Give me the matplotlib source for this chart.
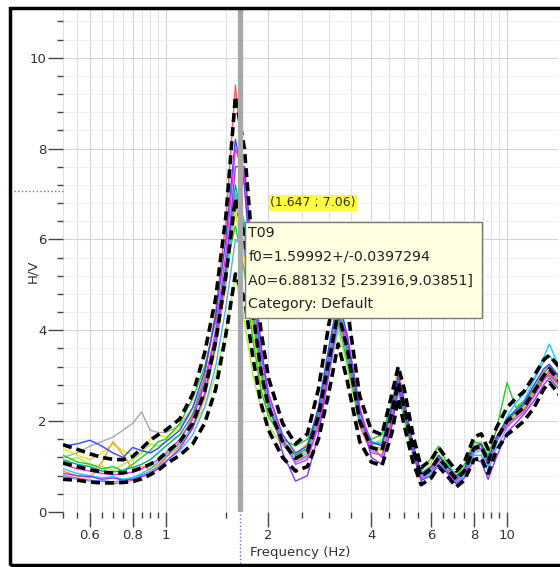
import numpy as np
import matplotlib
matplotlib.use('Agg')
import matplotlib.pyplot as plt
from matplotlib.ticker import FixedLocator, FixedFormatter, NullFormatter
from matplotlib.patches import Rectangle

# frequency samples (Hz)
freq = [0.50, 0.55, 0.60, 0.65, 0.70, 0.75, 0.80, 0.85, 0.90, 0.95,
        1.00, 1.10, 1.20, 1.30, 1.40, 1.50, 1.60, 1.70, 1.80, 1.90,
        2.00, 2.20, 2.40, 2.60, 2.80, 3.00, 3.20, 3.40, 3.70, 4.00,
        4.30, 4.60, 4.80, 5.00, 5.30, 5.60, 6.00, 6.30, 6.70, 7.10,
        7.50, 8.00, 8.40, 8.80, 9.30, 10.0, 10.6, 11.2, 12.0, 12.8,
        13.3, 14.0, 14.5]

# average H/V and +/- std curves
hv_mean = [1.08, 1.00, 0.93, 0.88, 0.86, 0.86, 0.90, 0.97, 1.05, 1.15,
           1.30, 1.55, 1.95, 2.65, 3.75, 5.20, 6.90, 6.10, 4.40, 3.10,
           2.30, 1.55, 1.18, 1.32, 2.10, 3.30, 4.40, 3.60, 2.00, 1.42,
           1.35, 2.20, 2.85, 2.30, 1.40, 0.78, 0.95, 1.20, 0.95, 0.72,
           0.90, 1.40, 1.45, 1.10, 1.60, 2.00, 2.15, 2.30, 2.65, 3.00,
           3.15, 2.95, 2.80]
hv_upper = [1.48, 1.38, 1.28, 1.20, 1.16, 1.15, 1.22, 1.40, 1.58, 1.70,
            1.80, 2.05, 2.60, 3.50, 4.70, 6.50, 9.15, 8.00, 5.70, 4.00,
            2.95, 1.95, 1.50, 1.72, 2.70, 4.10, 5.20, 4.50, 2.55, 1.80,
            1.70, 2.60, 3.20, 2.70, 1.70, 0.98, 1.15, 1.42, 1.15, 0.90,
            1.10, 1.65, 1.72, 1.38, 1.85, 2.30, 2.50, 2.65, 3.00, 3.35,
            3.45, 3.25, 3.10]
hv_lower = [0.72, 0.70, 0.66, 0.64, 0.64, 0.65, 0.67, 0.73, 0.82, 0.92,
            1.05, 1.25, 1.50, 1.95, 2.70, 3.90, 5.24, 4.70, 3.40, 2.40,
            1.80, 1.20, 0.90, 1.00, 1.60, 2.60, 3.70, 2.90, 1.55, 1.10,
            1.02, 1.75, 2.50, 1.90, 1.10, 0.60, 0.75, 1.00, 0.78, 0.55,
            0.70, 1.15, 1.20, 0.85, 1.35, 1.70, 1.85, 2.00, 2.30, 2.70,
            2.85, 2.65, 2.50]

# individual time window curves
win_blue = [1.45, 1.50, 1.58, 1.45, 1.30, 1.20, 1.42, 1.35, 1.30, 1.40,
            1.55, 1.80, 2.30, 3.10, 4.30, 6.00, 8.20, 7.20, 5.00, 3.50,
            2.60, 1.70, 1.30, 1.45, 2.30, 3.60, 4.70, 3.90, 2.20, 1.55,
            1.45, 2.35, 3.00, 2.40, 1.50, 0.85, 1.00, 1.25, 1.00, 0.78,
            0.95, 1.45, 1.50, 1.15, 1.65, 2.05, 2.25, 2.40, 2.80, 3.15,
            3.25, 3.05, 2.90]
win_cyan = [0.95, 0.85, 0.80, 0.75, 0.78, 0.72, 0.76, 0.85, 0.95, 1.10,
            1.25, 1.50, 1.90, 2.60, 3.70, 5.10, 7.00, 6.40, 4.60, 3.20,
            2.40, 1.60, 1.15, 1.30, 2.20, 3.40, 4.50, 3.80, 2.10, 1.50,
            1.55, 2.30, 2.75, 2.20, 1.35, 0.70, 0.90, 1.15, 0.90, 0.65,
            0.85, 1.30, 1.35, 1.00, 1.50, 2.10, 2.40, 2.60, 2.95, 3.40,
            3.70, 3.30, 3.10]
win_green = [1.25, 1.10, 1.05, 0.95, 1.00, 0.90, 1.05, 1.20, 1.35, 1.55,
             1.60, 1.95, 2.50, 3.20, 4.20, 5.40, 6.30, 5.30, 3.80, 2.70,
             2.10, 1.60, 1.45, 1.60, 2.10, 3.10, 4.20, 3.30, 2.00, 1.60,
             1.70, 2.40, 2.70, 2.10, 1.30, 0.90, 1.20, 1.45, 1.05, 0.80,
             1.05, 1.55, 1.50, 1.25, 1.80, 2.85, 2.30, 2.45, 2.70, 2.95,
             3.00, 2.85, 2.70]
win_lime = [1.10, 1.20, 1.05, 1.00, 0.92, 1.05, 1.15, 1.30, 1.50, 1.45,
            1.55, 1.70, 1.90, 2.30, 3.00, 4.00, 5.20, 4.20, 3.00, 2.30,
            1.90, 1.45, 1.25, 1.50, 2.00, 3.00, 4.00, 3.20, 1.90, 1.50,
            1.60, 2.10, 2.60, 2.00, 1.20, 0.80, 1.10, 1.35, 1.00, 0.78,
            1.00, 1.50, 1.55, 1.20, 1.55, 2.10, 2.20, 2.35, 2.60, 2.90,
            3.00, 2.80, 2.70]
win_yellow = [1.40, 1.25, 1.15, 1.30, 1.50, 1.35, 1.25, 1.35, 1.60, 1.70,
              1.65, 1.85, 2.20, 2.80, 3.80, 5.00, 6.60, 5.60, 4.00, 2.90,
              2.20, 1.50, 1.20, 1.40, 2.10, 3.20, 4.30, 3.50, 1.95, 1.40,
              1.35, 2.15, 2.80, 2.25, 1.40, 0.80, 0.95, 1.20, 0.95, 0.75,
              0.90, 1.40, 1.45, 1.10, 1.55, 1.95, 2.15, 2.30, 2.65, 3.00,
              3.10, 2.90, 2.75]
win_orange = [0.90, 0.80, 0.75, 1.10, 1.55, 1.25, 0.95, 1.00, 0.95, 1.05,
              1.20, 1.45, 1.85, 2.50, 3.60, 5.00, 7.00, 6.30, 4.50, 3.20,
              2.40, 1.60, 1.25, 1.50, 2.20, 3.40, 4.60, 3.70, 2.05, 1.45,
              1.40, 2.40, 3.20, 2.45, 1.45, 0.80, 0.95, 1.20, 0.95, 0.72,
              0.90, 1.40, 1.45, 1.10, 1.60, 2.00, 2.20, 2.40, 2.75, 3.10,
              3.25, 3.00, 2.85]
win_red = [0.80, 0.75, 0.70, 0.68, 0.62, 0.65, 0.70, 0.80, 0.90, 1.00,
           1.20, 1.55, 2.10, 3.00, 4.40, 6.40, 9.40, 7.20, 4.80, 3.30,
           2.40, 1.55, 1.10, 1.25, 2.00, 3.20, 4.40, 3.50, 1.90, 1.30,
           1.25, 2.10, 2.90, 2.30, 1.35, 0.72, 0.88, 1.15, 0.90, 0.68,
           0.85, 1.35, 1.40, 1.05, 1.55, 1.95, 2.10, 2.25, 2.60, 2.95,
           3.10, 2.90, 2.75]
win_magenta = [1.05, 0.95, 0.90, 0.85, 0.82, 0.84, 0.88, 0.95, 1.05, 1.15,
               1.30, 1.60, 2.05, 2.80, 4.00, 5.70, 8.00, 7.40, 5.30, 3.60,
               2.60, 1.60, 1.05, 1.15, 1.90, 3.10, 4.30, 3.80, 2.30, 1.45,
               1.20, 2.00, 2.80, 2.35, 1.40, 0.75, 0.92, 1.15, 0.90, 0.70,
               0.85, 1.35, 1.40, 1.05, 1.55, 1.90, 2.05, 2.20, 2.55, 2.90,
               3.05, 2.85, 2.70]
win_purple = [0.85, 0.80, 0.78, 0.72, 0.75, 0.70, 0.72, 0.78, 0.85, 0.95,
              1.10, 1.40, 1.85, 2.60, 3.70, 5.30, 7.60, 7.60, 5.60, 3.70,
              2.50, 1.30, 0.68, 0.80, 1.70, 3.00, 4.30, 3.90, 2.30, 1.20,
              1.05, 1.90, 2.70, 2.30, 1.35, 0.70, 0.80, 1.05, 0.85, 0.62,
              0.75, 1.15, 1.10, 0.72, 1.20, 1.75, 1.95, 2.15, 2.45, 2.80,
              2.95, 2.75, 2.60]
win_grey = [1.20, 1.30, 1.45, 1.55, 1.65, 1.80, 1.95, 2.20, 1.80, 1.75,
            1.75, 1.90, 2.30, 2.90, 3.90, 5.20, 6.80, 5.80, 4.10, 2.90,
            2.20, 1.50, 1.20, 1.35, 2.05, 3.20, 4.30, 3.50, 1.95, 1.40,
            1.35, 2.20, 2.80, 2.25, 1.40, 0.80, 0.95, 1.20, 0.95, 0.75,
            0.90, 1.40, 1.45, 1.10, 1.60, 2.00, 2.15, 2.30, 2.65, 3.00,
            3.10, 2.95, 2.80]
win_lightblue = [0.78, 0.72, 0.68, 0.70, 0.66, 0.70, 0.75, 0.82, 0.88, 0.98,
                 1.12, 1.35, 1.70, 2.30, 3.20, 4.50, 6.00, 5.80, 4.30, 3.10,
                 2.30, 1.50, 1.10, 1.20, 1.85, 3.00, 4.10, 3.50, 2.00, 1.35,
                 1.25, 2.00, 2.65, 2.20, 1.30, 0.68, 0.85, 1.10, 0.85, 0.62,
                 0.80, 1.25, 1.25, 0.90, 1.40, 1.85, 2.10, 2.45, 2.90, 3.30,
                 3.45, 3.20, 3.00]
win_teal = [1.15, 1.05, 1.00, 0.90, 0.88, 0.92, 0.98, 1.05, 1.15, 1.30,
            1.45, 1.70, 2.15, 2.85, 3.90, 5.40, 7.20, 6.20, 4.40, 3.10,
            2.30, 1.55, 1.25, 1.40, 2.15, 3.35, 4.40, 3.60, 2.05, 1.50,
            1.50, 2.25, 2.85, 2.25, 1.40, 0.82, 1.00, 1.25, 0.98, 0.75,
            0.92, 1.42, 1.48, 1.12, 1.60, 2.00, 2.20, 2.35, 2.70, 3.05,
            3.20, 3.00, 2.85]

windows = [win_grey, win_yellow, win_lime, win_green, win_orange, win_red,
           win_lightblue, win_cyan, win_teal, win_blue, win_magenta, win_purple]
win_colors = ['#a8a8a8', '#e6e600', '#a6f03c', '#22cc22', '#ff9a2a', '#ff5a6a',
              '#5aa8ff', '#10d8f0', '#00a89a', '#3048ff', '#f030f0', '#8a38ff']

x_major = [0.6, 0.8, 1, 2, 4, 6, 8, 10]
x_major_labels = ['0.6', '0.8', '1', '2', '4', '6', '8', '10']
x_minor = [0.5, 0.55, 0.65, 0.7, 0.75, 0.85, 0.9, 0.95, 1.5, 2.5, 3, 3.5,
           4.5, 5, 5.5, 6.5, 7, 7.5, 8.5, 9, 9.5]
y_major = [0, 2, 4, 6, 8, 10]
y_minor = [0.4, 0.8, 1.2, 1.6, 2.4, 2.8, 3.2, 3.6, 4.4, 4.8, 5.2, 5.6,
           6.4, 6.8, 7.2, 7.6, 8.4, 8.8, 9.2, 9.6, 10.4, 10.8]

f0_pick = 1.647
a0_pick = 7.06
tip_lines = ['T09', 'f0=1.59992+/-0.0397294',
             'A0=6.88132 [5.23916,9.03851]', 'Category: Default']

fig = plt.figure(figsize=(5.6, 5.67), dpi=100)
ax = fig.add_axes([63 / 560, 55 / 567, 495 / 560, 502 / 567])
ax.set_xscale('log')
ax.set_xlim(0.5, 14.1)
ax.set_ylim(0, 11.05)

ax.xaxis.set_major_locator(FixedLocator(x_major))
ax.xaxis.set_major_formatter(FixedFormatter(x_major_labels))
ax.xaxis.set_minor_locator(FixedLocator(x_minor))
ax.xaxis.set_minor_formatter(NullFormatter())
ax.yaxis.set_major_locator(FixedLocator(y_major))
ax.yaxis.set_minor_locator(FixedLocator(y_minor))

ax.grid(True, which='major', axis='x', color='#d4d4d4', lw=0.8)
ax.grid(True, which='minor', axis='x', color='#e0e0e0', lw=0.7)
ax.grid(True, which='major', axis='y', color='#d4d4d4', lw=0.8)
ax.grid(True, which='minor', axis='y', color='#eeeeee', lw=0.6)
ax.set_axisbelow(True)

for s in ax.spines.values():
    s.set_visible(False)
ax.tick_params(which='major', length=11, width=1.0, color='#444444',
               labelsize=9.5, labelcolor='#333333', pad=1)
ax.tick_params(which='minor', length=4, width=1.0, color='#444444')

for vals, col in zip(windows, win_colors):
    ax.plot(freq, vals, color=col, lw=1.0, zorder=2)

for vals in (hv_upper, hv_mean, hv_lower):
    ax.plot(freq, vals, color='black', lw=2.6, ls=(0, (2.5, 1.4)), zorder=3)

# picked peak marker
ax.axvline(f0_pick, color='#a8a8a8', lw=3.8, zorder=4)
ax.plot([f0_pick, f0_pick], [-0.11, 0], transform=ax.get_xaxis_transform(),
        color='#5577ee', lw=1, ls=':', clip_on=False, zorder=5)
ax.plot([-0.1, 0], [a0_pick, a0_pick], transform=ax.get_yaxis_transform(),
        color='#5577ee', lw=1, ls=':', clip_on=False, zorder=5)

ax.text(0.418, 0.616, '(1.647 ; 7.06)', transform=ax.transAxes, fontsize=9,
        color='#333333', va='center', ha='left', zorder=7,
        bbox=dict(boxstyle='square,pad=0.1', fc='#ffff40', ec='none'))

ax.add_patch(Rectangle((0.368, 0.386), 0.479, 0.192, transform=ax.transAxes,
                       facecolor='#ffffe1', edgecolor='#7a7a7a', lw=1.0, zorder=6))
for i, line in enumerate(tip_lines):
    ax.text(0.374, 0.555 - i * 0.047, line, transform=ax.transAxes,
            fontsize=10.2, color='#222222', va='center', ha='left', zorder=7)

ax.set_xlabel('Frequency (Hz)', fontsize=9.5, color='#333333')
ax.set_ylabel('H/V', fontsize=9.5, color='#333333')
ax.xaxis.set_label_coords(0.479, -0.068)
ax.yaxis.set_label_coords(-0.048, 0.48)

fig.patches.append(Rectangle((10 / 560, 2 / 567), 1.1, 557 / 567,
                             transform=fig.transFigure, fill=False,
                             edgecolor='black', lw=2.5))

fig.savefig('out.png', dpi=100)
